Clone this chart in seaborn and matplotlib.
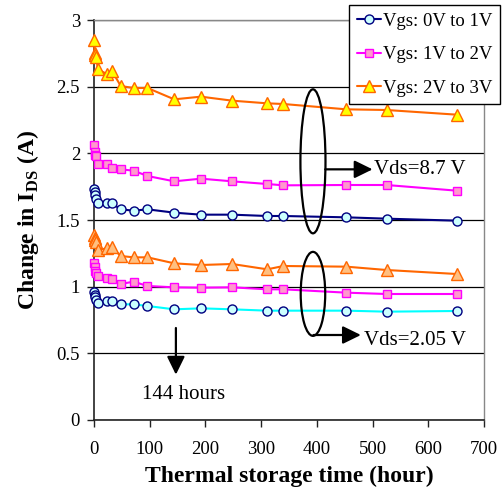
import matplotlib
matplotlib.use("Agg")
import matplotlib.pyplot as plt
import seaborn as sns
import pandas as pd
from matplotlib.patches import Ellipse

# ---------------- data ----------------
hours = [0, 1, 2, 4, 7, 23, 32, 48, 71, 96, 144, 192, 248, 311, 340, 453, 525, 651]

# Vds = 8.7 V group
hi_vgs01 = [1.73, 1.71, 1.69, 1.66, 1.63, 1.63, 1.625, 1.58, 1.57, 1.58, 1.555, 1.54,
            1.54, 1.53, 1.53, 1.52, 1.51, 1.495]
hi_vgs12 = [2.06, 2.01, 1.99, 1.98, 1.92, 1.92, 1.89, 1.88, 1.87, 1.83, 1.79, 1.81,
            1.79, 1.77, 1.76, 1.7625, 1.7625, 1.72]
hi_vgs23 = [2.85, 2.75, 2.74, 2.72, 2.63, 2.595, 2.62, 2.505, 2.49, 2.49, 2.405, 2.425,
            2.395, 2.375, 2.37, 2.33, 2.325, 2.29]

# Vds = 2.05 V group
lo_vgs01 = [0.9625, 0.9375, 0.92, 0.90, 0.875, 0.895, 0.895, 0.8675, 0.8675, 0.855, 0.83,
            0.8375, 0.83, 0.82, 0.82, 0.82, 0.8125, 0.8175]
lo_vgs12 = [1.175, 1.15, 1.12, 1.10, 1.08, 1.0625, 1.0575, 1.02, 1.0375, 1.005, 0.995,
            0.9925, 0.995, 0.98, 0.98, 0.955, 0.945, 0.945]
lo_vgs23 = [1.3875, 1.3625, 1.35, 1.3375, 1.275, 1.2875, 1.295, 1.23, 1.22, 1.22, 1.175,
            1.1625, 1.17, 1.13, 1.155, 1.15, 1.125, 1.095]

series_labels = ["Vgs: 0V to 1V", "Vgs: 1V to 2V", "Vgs: 2V to 3V"]
x_ticks = [0, 100, 200, 300, 400, 500, 600, 700]
y_ticks = [0, 0.5, 1, 1.5, 2, 2.5, 3]
y_tick_labels = ["0", "0.5", "1", "1.5", "2", "2.5", "3"]

# ---------------- style ----------------
sns.set_theme(style="white")
plt.rcParams["font.family"] = ["Liberation Serif", "DejaVu Serif"]
plt.rcParams["mathtext.fontset"] = "custom"
plt.rcParams["mathtext.rm"] = "Liberation Serif"
plt.rcParams["mathtext.bf"] = "Liberation Serif:bold"
plt.rcParams["text.color"] = "black"
plt.rcParams["axes.labelcolor"] = "black"
plt.rcParams["xtick.color"] = "black"
plt.rcParams["ytick.color"] = "black"

fig = plt.figure(figsize=(5.03, 4.93), dpi=100)
ax = fig.add_axes([94 / 503, 1 - 420 / 493, 390 / 503, 400 / 493])

specs = [
    # values, line color, marker, face, edge, size, label
    (hi_vgs01, "#000080", "o", "#CCFFFF", "#000080", 6.5, series_labels[0]),
    (hi_vgs12, "#FF00FF", "s", "#FF99CC", "#FF00FF", 5.5, series_labels[1]),
    (hi_vgs23, "#FF6600", "^", "#FFFF00", "#FF6600", 8, series_labels[2]),
    (lo_vgs01, "#00FFFF", "o", "#CCFFFF", "#000080", 6.5, None),
    (lo_vgs12, "#FF00FF", "s", "#FF99CC", "#FF00FF", 5.5, None),
    (lo_vgs23, "#FF6600", "^", "#FFBF80", "#FF6600", 8, None),
]

handles = []
for vals, lc, mk, fc, ec, ms, lab in specs:
    df = pd.DataFrame({"hours": hours, "val": vals})
    n_before = len(ax.lines)
    sns.lineplot(data=df, x="hours", y="val", ax=ax, color=lc, linewidth=1.5,
                 marker=mk, markersize=ms, markerfacecolor=fc, markeredgecolor=ec,
                 markeredgewidth=1.0, label=lab if lab else "_nolegend_",
                 legend=False, clip_on=False, zorder=3)
    if lab:
        handles.append(ax.lines[n_before])

ax.set_xlim(0, 700)
ax.set_ylim(0, 3)
ax.set_xticks(x_ticks)
ax.set_xticklabels([str(t) for t in x_ticks])
ax.set_yticks(y_ticks)
ax.set_yticklabels(y_tick_labels)

ax.set_axisbelow(True)
ax.yaxis.grid(True, color="black", linewidth=0.9)
ax.xaxis.grid(False)

for side in ["left", "bottom"]:
    ax.spines[side].set_color("#222222")
    ax.spines[side].set_linewidth(1.2)
for side in ["top", "right"]:
    ax.spines[side].set_color("#888888")
    ax.spines[side].set_linewidth(1.0)

ax.tick_params(axis="both", direction="out", length=5, width=1, color="#222222",
               labelsize=13.5, labelcolor="black", bottom=True, left=True)
ax.tick_params(axis="x", pad=10)
ax.tick_params(axis="y", pad=5)

ax.set_xlabel("Thermal storage time (hour)", fontsize=17, fontweight="bold")
ax.set_ylabel(r"Change in I$_{\mathbf{DS}}$ (A)", fontsize=17, fontweight="bold")
ax.xaxis.set_label_coords(0.5, -0.115)
ax.yaxis.set_label_coords(-0.135, 0.5)

# ---------------- annotations ----------------
ax.add_patch(Ellipse((393, 1.94), width=45, height=1.08, fill=False,
                     edgecolor="black", linewidth=1.6, zorder=4))
ax.add_patch(Ellipse((393, 0.946), width=44, height=0.63, fill=False,
                     edgecolor="black", linewidth=1.6, zorder=4))

arrow_style = dict(arrowstyle="-|>,head_length=0.55,head_width=0.27",
                   mutation_scale=20, color="black", lw=1.6, shrinkA=0, shrinkB=0)
ax.annotate("", xy=(500, 1.88), xytext=(415, 1.88), arrowprops=arrow_style, zorder=4)
ax.text(502, 1.88, "Vds=8.7 V", fontsize=15, ha="left", va="center", zorder=5)

ax.annotate("", xy=(479, 0.6375), xytext=(394, 0.6375), arrowprops=arrow_style, zorder=4)
ax.text(484, 0.60, "Vds=2.05 V", fontsize=15, ha="left", va="center", zorder=5)

ax.annotate("", xy=(147, 0.34), xytext=(147, 0.69), arrowprops=arrow_style, zorder=4)
ax.text(86, 0.19, "144 hours", fontsize=15, ha="left", va="center", zorder=5)

leg = ax.legend(handles, series_labels, loc="upper right",
                bbox_to_anchor=(500 / 503, 488 / 493), bbox_transform=fig.transFigure,
                frameon=True, fancybox=False, edgecolor="black", framealpha=1,
                fontsize=13.5, handlelength=1.3, borderaxespad=0, labelspacing=0.88,
                borderpad=0.4, handletextpad=0.12)
leg.get_frame().set_linewidth(1.0)
leg.set_zorder(10)

fig.savefig("out.png", dpi=100)
